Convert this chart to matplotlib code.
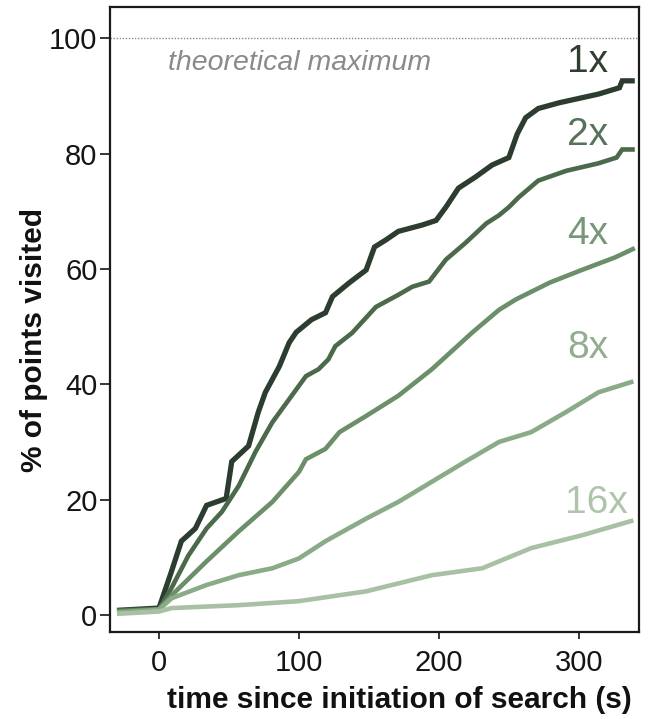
import matplotlib
matplotlib.use("Agg")
import matplotlib.pyplot as plt

plt.rcParams['font.family'] = ['Liberation Sans', 'DejaVu Sans']

# ---- data ----
t_1x = [-30, 0, 9, 16, 26, 34, 48, 52, 64, 71, 76, 86, 93, 98, 109, 119, 124, 136, 148, 154, 162,
        171, 188, 198, 205, 214, 226, 238, 250, 256, 262, 271, 286, 314, 329, 331, 340]
y_1x = [0.8, 1.2, 7.6, 12.8, 15.0, 19.0, 20.2, 26.6, 29.3, 35.2, 38.6, 43.1, 47.2, 49.0, 51.2, 52.4,
        55.2, 57.6, 59.8, 63.8, 65.0, 66.5, 67.6, 68.4, 70.7, 74.0, 75.9, 78.0, 79.3, 83.4, 86.2,
        87.8, 88.8, 90.3, 91.4, 92.6, 92.6]

t_2x = [-30, 0, 9, 21, 34, 45, 57, 69, 81, 93, 105, 114, 121, 126, 138, 155, 171, 181, 193, 205,
        219, 234, 243, 250, 257, 271, 291, 314, 327, 331, 340]
y_2x = [0.8, 1.0, 4.7, 10.3, 15.0, 17.9, 22.4, 28.3, 33.4, 37.4, 41.4, 42.6, 44.3, 46.6, 48.9,
        53.4, 55.5, 56.9, 57.8, 61.6, 64.5, 67.9, 69.3, 70.7, 72.4, 75.3, 77.0, 78.3, 79.3, 80.7, 80.7]

t_4x = [-30, 0, 9, 34, 57, 81, 100, 105, 119, 129, 148, 171, 195, 224, 243, 255, 279, 302, 326, 340]
y_4x = [0.6, 1.0, 3.4, 9.3, 14.5, 19.6, 24.8, 27.0, 28.8, 31.7, 34.5, 38.0, 42.6, 49.0, 52.9,
        54.7, 57.6, 59.8, 62.0, 63.6]

t_8x = [-30, 0, 9, 34, 57, 81, 100, 119, 148, 171, 195, 219, 243, 266, 291, 314, 339]
y_8x = [0.4, 0.9, 2.9, 5.2, 6.9, 8.1, 9.8, 12.8, 16.7, 19.6, 23.1, 26.6, 30.0, 31.7, 35.2, 38.6, 40.5]

t_16x = [-30, 0, 9, 57, 100, 148, 195, 231, 266, 302, 339]
y_16x = [0.2, 0.6, 1.2, 1.7, 2.4, 4.1, 6.9, 8.1, 11.6, 13.8, 16.4]

series_names = ['1x', '2x', '4x', '8x', '16x']
label_x = [321, 321, 321, 321, 335]
label_y = [95.8, 83.2, 66.0, 46.3, 19.4]
line_colors = ['#2c3d2f', '#4b6a4b', '#6b8f68', '#8aab87', '#a8c1a4']
text_colors = ['#2f3e31', '#55735a', '#789777', '#92ad90', '#afc4ab']
line_widths = [3.8, 3.3, 3.3, 3.3, 3.3]

xticks = [0, 100, 200, 300]
yticks = [0, 20, 40, 60, 80, 100]
theoretical_max = 100

# ---- figure ----
W, H = 654, 719
fig = plt.figure(figsize=(W / 100, H / 100), dpi=100)
ax = fig.add_axes([110 / W, 1 - 632 / H, 529 / W, 625 / H])

series_t = [t_1x, t_2x, t_4x, t_8x, t_16x]
series_y = [y_1x, y_2x, y_4x, y_8x, y_16x]
for t, y, c, lw in zip(series_t, series_y, line_colors, line_widths):
    ax.plot(t, y, color=c, lw=lw, solid_joinstyle='miter', solid_capstyle='butt')

for name, lx, ly, tc in zip(series_names, label_x, label_y, text_colors):
    ax.text(lx, ly, name, color=tc, fontsize=28, ha='right', va='center')

ax.axhline(theoretical_max, color='#888888', lw=1.0, ls=(0, (1, 1.2)))
ax.text(6.4, 94.5, 'theoretical maximum', color='#8a8a8a', fontsize=20.5,
        style='italic', ha='left', va='baseline')

ax.set_xlim(-35, 343)
ax.set_ylim(-2.95, 105.4)
ax.set_xticks(xticks)
ax.set_yticks(yticks)
ax.tick_params(axis='both', direction='out', width=1.2, labelsize=21, colors='#151515')
ax.tick_params(axis='x', length=5, pad=7)
ax.tick_params(axis='y', length=7, pad=2)
for s in ax.spines.values():
    s.set_linewidth(1.6)
    s.set_color('#1a1a1a')

fig.text(632 / W, 1 - 708 / H, 'time since initiation of search (s)', fontsize=21.5,
         fontweight='bold', ha='right', va='baseline', color='#111111')
fig.text(34 / W, 1 - 340 / H, '% of points visited', fontsize=21.5, fontweight='bold',
         rotation=90, ha='center', va='center', color='#111111')

fig.savefig('out.png', dpi=100)
